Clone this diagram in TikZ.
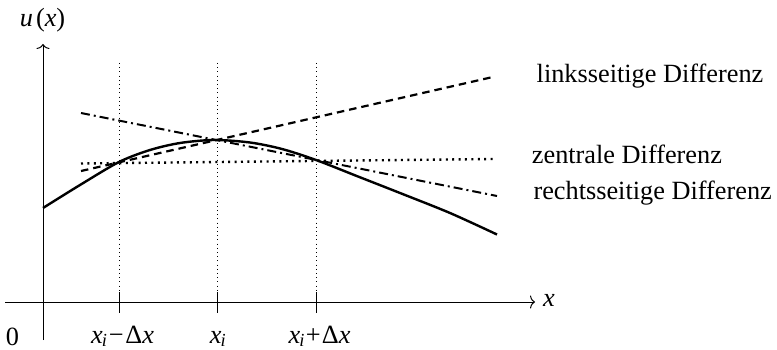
\documentclass[tikz,border=0pt]{standalone}
\usepackage{fontspec}
\setmainfont{Liberation Serif}
\usetikzlibrary{arrows.meta}
\newcommand{\vx}{\textit{x}}
\newcommand{\vxi}{\textit{x}\textsubscript{\kern-0.05em\textit{i}}}
\begin{document}
\begin{tikzpicture}[x=1pt,y=-1pt,
  lbl/.style={inner sep=0pt,font=\fontsize{26.3}{30}\selectfont},
  axis/.style={line width=1pt,-{To[length=5pt,width=13pt]}},
  grid/.style={line width=0.8pt,dash pattern=on 1pt off 3.2pt},
  tickmark/.style={line width=1pt},
  func/.style={line width=2.4pt},
  links/.style={line width=2.2pt,dash pattern=on 7.5pt off 5pt},
  rechts/.style={line width=2pt,dash pattern=on 9pt off 4pt on 2pt off 4pt},
  zentral/.style={line width=2.4pt,dash pattern=on 2pt off 4.4pt}]
\useasboundingbox (0,0) rectangle (777,350);
% axes
\coordinate (xs) at (5,302);
\coordinate (xe) at (535,302);
\coordinate (ys) at (43,340);
\coordinate (ye) at (43,44);
\draw[axis] (xs) -- (xe);
\draw[axis] (ys) -- (ye);
\node[lbl,anchor=base] (xlab) at (549,306.5) {\vx};
\node[lbl,anchor=base] (ylab) at (42.5,27) {\textit{u}\kern0.12em(\vx)};
\node[lbl,anchor=base] (zero) at (12.5,345) {0};
% grid lines and ticks
\foreach \n/\px in {a/119,b/217,c/316}{
  \coordinate (g\n top) at (\px,63);
  \coordinate (g\n bot) at (\px,302);
  \coordinate (t\n top) at (\px,292);
  \coordinate (t\n bot) at (\px,313);
  \draw[grid] (g\n top) -- (g\n bot);
  \draw[tickmark] (t\n top) -- (t\n bot);
}
\node[lbl,anchor=base] (la) at (122.5,343) {\vxi\kern0.06em−\kern0.06emΔ\vx};
\node[lbl,anchor=base] (lb) at (218,343) {\vxi};
\node[lbl,anchor=base] (lc) at (319.5,343) {\vxi\kern0.04em+\kern0.04emΔ\vx};
% function
\draw[func] plot[smooth,tension=0.5] coordinates {(43,208) (80,185) (119,162) (150,150) (180,143) (214,140) (250,142.5) (282,149) (316,160) (358,176.5) (400,193) (450,213) (497,234.5)};
% differences
\coordinate (ls) at (81,171);
\coordinate (le) at (495,76.5);
\coordinate (rs) at (81,113);
\coordinate (re) at (497,196);
\coordinate (zs) at (81,163.5);
\coordinate (ze) at (494,159);
\draw[links] (ls) -- (le);
\draw[rechts] (rs) -- (re);
\draw[zentral] (zs) -- (ze);
\node[lbl,anchor=base west] (tl) at (536.5,82.7) {linksseitige Differenz};
\node[lbl,anchor=base west] (tz) at (531.7,164) {zentrale Differenz};
\node[lbl,anchor=base west] (tr) at (533.3,199.5) {rechtsseitige Differenz};
\end{tikzpicture}
\end{document}
